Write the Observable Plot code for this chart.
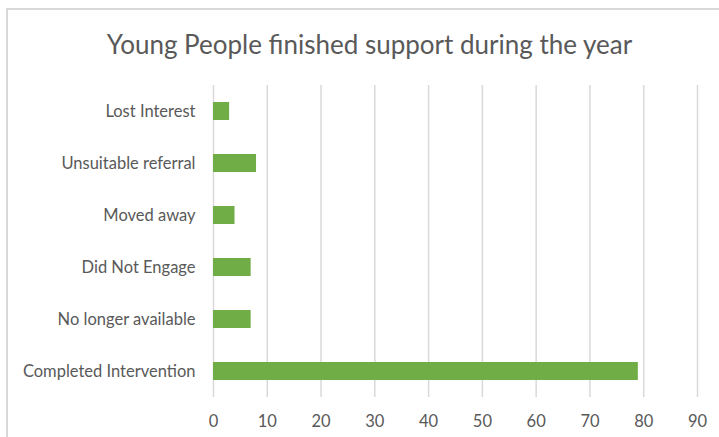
<!DOCTYPE html>
<html>
<head>
<meta charset="utf-8">
<script src="https://cdn.jsdelivr.net/npm/d3@7"></script>
<script src="https://cdn.jsdelivr.net/npm/@observablehq/plot@0.6"></script>
<style>
  html, body { margin: 0; padding: 0; background: #fff; }
  #wrap { position: relative; width: 719px; height: 437px; overflow: hidden; font-family: Lato, "Open Sans", sans-serif; }
  #frame { position: absolute; left: 6px; top: 8px; width: 730px; height: 450px; border-left: 2px solid #d9d9d9; border-top: 2px solid #d9d9d9; }
  #title { position: absolute; left: 0; width: 739px; top: 28px; line-height: 32px; text-align: center; font-size: 26px; color: #595959; }
  #chart { position: absolute; left: 0; top: 70px; }
</style>
</head>
<body>
<div id="wrap">
  <div id="frame"></div>
  <div id="title">Young People finished support during the year</div>
  <div id="chart"></div>
</div>
<script>
const categories = ["Lost Interest", "Unsuitable referral", "Moved away", "Did Not Engage", "No longer available", "Completed Intervention"];
const values = [3, 8, 4, 7, 7, 79];
const xTicks = [0, 10, 20, 30, 40, 50, 60, 70, 80, 90];

const data = categories.map((c, i) => ({category: c, value: values[i]}));

const plot = Plot.plot({
  width: 719,
  height: 367,
  marginLeft: 213,
  marginRight: 22,
  marginTop: 15,
  marginBottom: 40,
  style: {fontFamily: "Lato, 'Open Sans', sans-serif", fontSize: "16.5px", color: "#595959", background: "transparent"},
  x: {domain: [0, 90], ticks: xTicks, label: null},
  y: {domain: categories, paddingInner: 0.65, paddingOuter: 0.325, label: null},
  marks: [
    Plot.ruleX(xTicks, {stroke: "#d9d9d9", strokeWidth: 1.5, strokeOpacity: 1}),
    Plot.barX(data, {x: "value", y: "category", fill: "#70ad47"}),
    Plot.axisX({ticks: xTicks, tickSize: 0, tickPadding: 18, fontSize: 16.5, label: null, fill: "#595959"}),
    Plot.axisY({tickSize: 0, tickPadding: 18, fontSize: 16.5, label: null, fill: "#595959"})
  ]
});
document.getElementById("chart").appendChild(plot);
</script>
</body>
</html>
